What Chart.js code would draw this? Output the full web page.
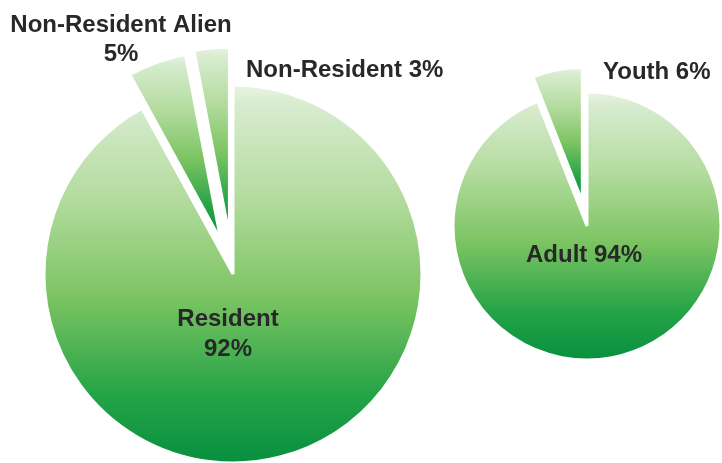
<!DOCTYPE html>
<html>
<head>
<meta charset="utf-8">
<script src="https://cdn.jsdelivr.net/npm/chart.js@4"></script>
<style>
  html, body { margin: 0; padding: 0; background: #ffffff; width: 722px; height: 463px; overflow: hidden; }
  .box { position: absolute; }
  #leftBox { left: 0px; top: 0px; width: 466px; height: 548px; }
  #rightBox { left: 452px; top: 40px; width: 270px; height: 372px; }
</style>
</head>
<body>
<div class="box" id="leftBox"><canvas id="leftChart"></canvas></div>
<div class="box" id="rightBox"><canvas id="rightChart"></canvas></div>
<script>
// ---- data ----
const residencyCategories = ["Resident", "Non-Resident Alien", "Non-Resident"];
const residencyValues = [92, 5, 3];
const ageCategories = ["Adult", "Youth"];
const ageValues = [94, 6];

// ---- styles ----
const leftRadius = 189;
const rightRadius = 134;
const leftExplode = [0, 36, 38];   // px the slice is pulled out along its mid-angle
const rightExplode = [0, 25];
const gradientStops = [
  [0.00, "#e8f4e2"],
  [0.05, "#d8ecd0"],
  [0.29, "#b5dca0"],
  [0.56, "#7cc462"],
  [0.82, "#25a347"],
  [1.00, "#07903f"]
];
const labelFont = 'bold 24px "Liberation Sans", Arial, sans-serif';
const labelColor = "#282828";

// label layout relative to pie center (style only, text comes from data)
const leftLabelLayout = [
  { index: 0, twoLines: true, align: "center", dx: -5, dy: 52, lineHeight: 30 },
  { index: 1, twoLines: true, align: "center", dx: -112, dy: -242, lineHeight: 29 },
  { index: 2, twoLines: false, align: "left", dx: 13, dy: -197 }
];
const rightLabelLayout = [
  { index: 0, twoLines: false, align: "center", dx: -3, dy: 36 },
  { index: 1, twoLines: false, align: "left", dx: 16, dy: -147 }
];

// vertical gradient spanning each slice's own bounding box (uses geometry of previous pass)
function sliceGradient(ctx) {
  const chart = ctx.chart;
  const meta = chart.getDatasetMeta(ctx.datasetIndex);
  const el = meta && meta.data[ctx.dataIndex];
  if (!el || el.outerRadius === undefined || isNaN(el.outerRadius) || el.startAngle === undefined) {
    return gradientStops[3][1];
  }
  const { x, y, startAngle, endAngle, outerRadius } = el;
  const ys = [y, y + Math.sin(startAngle) * outerRadius, y + Math.sin(endAngle) * outerRadius];
  [-Math.PI / 2, Math.PI / 2, 3 * Math.PI / 2, 5 * Math.PI / 2].forEach(a => {
    if (a >= startAngle && a <= endAngle) ys.push(y + Math.sin(a) * outerRadius);
  });
  const top = Math.min(...ys), bottom = Math.max(...ys);
  const g = chart.ctx.createLinearGradient(0, top, 0, bottom);
  gradientStops.forEach(s => g.addColorStop(s[0], s[1]));
  return g;
}

// pull slices out of the pie by moving their centre along the mid-angle
const explodePlugin = {
  id: "explode",
  afterDatasetUpdate(chart, args, opts) {
    const dist = opts.distances || [];
    args.meta.data.forEach((el, i) => {
      const d = dist[i] || 0;
      if (!d) return;
      const mid = (el.startAngle + el.endAngle) / 2;
      el.x += Math.cos(mid) * d;
      el.y += Math.sin(mid) * d;
    });
  }
};

const labelPlugin = {
  id: "pieLabels",
  afterDatasetsDraw(chart, args, opts) {
    const meta = chart.getDatasetMeta(0);
    const center = meta.data[0];
    if (!center) return;
    const cats = chart.data.labels;
    const vals = chart.data.datasets[0].data;
    const c = chart.ctx;
    c.save();
    c.font = labelFont;
    c.fillStyle = labelColor;
    c.textBaseline = "alphabetic";
    opts.layout.forEach(l => {
      const lines = l.twoLines
        ? [cats[l.index], vals[l.index] + "%"]
        : [cats[l.index] + " " + vals[l.index] + "%"];
      c.textAlign = l.align;
      lines.forEach((t, i) => {
        c.fillText(t, center.x + l.dx, center.y + l.dy + i * (l.lineHeight || 0));
      });
    });
    c.restore();
  }
};

function makePie(canvasId, cats, vals, explode, radius, layout) {
  const chart = new Chart(document.getElementById(canvasId), {
    type: "pie",
    data: {
      labels: cats,
      datasets: [{
        data: vals,
        backgroundColor: sliceGradient,
        borderColor: "#ffffff",
        borderWidth: 3,
        hoverOffset: 0
      }]
    },
    options: {
      responsive: true,
      maintainAspectRatio: false,
      animation: false,
      events: [],
      radius: radius,
      layout: { padding: 0 },
      plugins: {
        legend: { display: false },
        tooltip: { enabled: false },
        explode: { distances: explode },
        pieLabels: { layout: layout }
      }
    },
    plugins: [explodePlugin, labelPlugin]
  });
  chart.update("none");
  return chart;
}

makePie("leftChart", residencyCategories, residencyValues, leftExplode, leftRadius, leftLabelLayout);
makePie("rightChart", ageCategories, ageValues, rightExplode, rightRadius, rightLabelLayout);
</script>
</body>
</html>
